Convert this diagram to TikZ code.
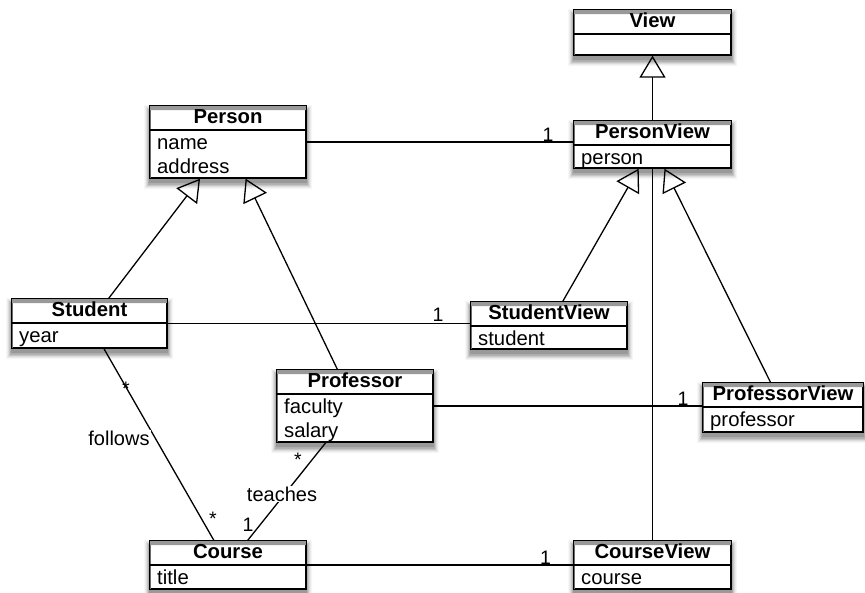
\documentclass[tikz,border=0pt]{standalone}
\usepackage{fontspec}
\setmainfont{Liberation Sans}
\usetikzlibrary{arrows.meta,fit}

\definecolor{shadeA}{gray}{0.60}
\definecolor{shadeB}{gray}{0.70}
\definecolor{shadeC}{gray}{0.79}
\definecolor{shadeD}{gray}{0.87}
\definecolor{shadeE}{gray}{0.93}
\definecolor{shadeF}{gray}{0.97}

\tikzset{
  lw/.style={line width=1.3pt},
  classbox/.style={lw, draw=black, fill=white, inner sep=0pt},
  shadowring/.style={fill=#1, draw=none, even odd rule},
  divider/.style={lw},
  classtitle/.style={anchor=base, inner sep=0pt,
    font=\fontsize{20.3}{24}\selectfont\bfseries},
  classattr/.style={anchor=base west, inner sep=0pt,
    font=\fontsize{20.3}{24}\selectfont},
  assoc/.style={lw},
  gen/.style={lw, -{Triangle[open, length=22pt, width=26pt, line width=1.3pt]}},
  mult/.style={anchor=base, inner sep=0pt, font=\fontsize{19.5}{22}\selectfont},
  rolelabel/.style={fill=white, inner sep=1pt, font=\fontsize{20}{22}\selectfont},
}

% soft drop shadow around a box (l,t,r,b): rings that leave the box itself free
\newcommand\boxshadow[4]{%
  \path[shadowring=shadeF] (#1-6,#2-1) rectangle (#3+6,#4+11) (#1,#2) rectangle (#3,#4);
  \path[shadowring=shadeE] (#1-5,#2)   rectangle (#3+5,#4+10) (#1,#2) rectangle (#3,#4);
  \path[shadowring=shadeD] (#1-4,#2+1) rectangle (#3+4,#4+9)  (#1,#2) rectangle (#3,#4);
  \path[shadowring=shadeC] (#1-3,#2+2) rectangle (#3+3,#4+8)  (#1,#2) rectangle (#3,#4);
  \path[shadowring=shadeB] (#1-2,#2+3) rectangle (#3+2,#4+7)  (#1,#2) rectangle (#3,#4);
  \path[shadowring=shadeA] (#1-1,#2+4) rectangle (#3+1,#4+5)  (#1,#2) rectangle (#3,#4);
}

% #1 name, #2 left, #3 top, #4 right, #5 divider, #6 bottom, #7 title, #8 attributes
\newcommand\umlclass[8]{%
  \node[classbox, fit={(#2,#3) (#4,#6)}] (#1) {};
  \boxshadow{#2}{#3}{#4}{#6}
  \draw[lw] (#1.south west) rectangle (#1.north east);
  \draw[divider] (#2,#5) -- (#4,#5);
  \node[classtitle] (#1-title) at ({(#2+#4)/2}, #3+17.5) {#7};
  \if\relax\detokenize{#8}\relax\else
    \foreach \a [count=\i] in {#8} {
      \node[classattr] (#1-attr\i) at (#2+7, #5+19+24*\i-24) {\a};
    }%
  \fi
}

\begin{document}
\begin{tikzpicture}[x=1pt, y=-1pt]
\useasboundingbox (0,0) rectangle (865,592);

% classes
\umlclass{view}{574}{10}{731}{34}{55}{View}{}
\umlclass{personview}{574}{121}{731}{145}{168}{PersonView}{person}
\umlclass{person}{150}{106}{306}{130}{178}{Person}{name,address}
\umlclass{student}{12}{299}{167}{323}{348}{Student}{year}
\umlclass{studentview}{471}{302}{627}{326}{349}{StudentView}{student}
\umlclass{professor}{277}{370}{433}{394}{442}{Professor}{faculty,salary}
\umlclass{professorview}{703}{383}{863}{407}{432}{ProfessorView}{professor}
\umlclass{course}{150}{541}{306}{565}{589}{Course}{title}
\umlclass{courseview}{574}{541}{731}{565}{589}{CourseView}{course}

% generalizations
\draw[gen] (personview) -- (view);
\draw[gen] (studentview) -- (personview);
\draw[gen] (professorview) -- (personview);
\draw[gen] (student) -- (person);
\draw[gen] (professor) -- (person);

% associations to the views
\draw[assoc] (person.east) -- (personview.west |- person.east);
\draw[assoc] (student.east) -- (studentview.west |- student.east);
\draw[assoc] (professor.east) -- (professorview.west |- professor.east);
\draw[assoc] (course.east) -- (courseview.west |- course.east);
\draw[assoc] (courseview) -- (personview);

\node[mult] (m-pv) at (548,141) {1};
\node[mult] (m-sv) at (438,321) {1};
\node[mult] (m-prv) at (683,405) {1};
\node[mult] (m-cv) at (545.5,564) {1};

% follows / teaches
\draw[assoc] (student) -- (course);
\draw[assoc] (professor) -- (course);
\node[rolelabel] (follows) at (119,438) {follows};
\node[rolelabel] (teaches) at (282,494) {teaches};

\node[mult] (m-fs) at (126,395) {*};
\node[mult] (m-fc) at (213,525) {*};
\node[mult] (m-tp) at (298,466) {*};
\node[mult] (m-tc) at (248,531) {1};
\end{tikzpicture}
\end{document}
